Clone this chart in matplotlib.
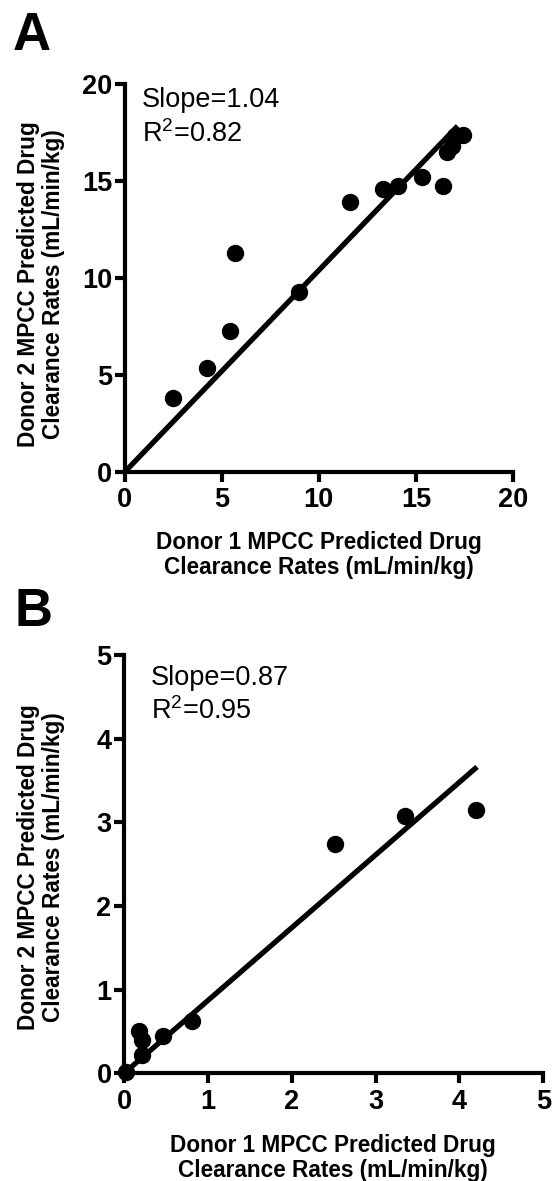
import matplotlib
matplotlib.use("Agg")
import matplotlib.pyplot as plt
import numpy as np

plt.rcParams['font.family'] = ['Liberation Sans', 'DejaVu Sans']
plt.rcParams['mathtext.default'] = 'regular'

# panel A data (Donor 1 vs Donor 2 clearance, mL/min/kg)
a_x = [2.5, 4.26, 5.43, 5.69, 8.97, 11.6, 13.3, 14.1, 15.3, 16.4, 16.6, 16.85, 17.0, 17.4]
a_y = [3.8, 5.35, 7.27, 11.3, 9.29, 13.9, 14.6, 14.75, 15.2, 14.75, 16.5, 16.8, 17.3, 17.35]
a_slope = 1.04
a_fit_end = 17.15

# panel B data
b_x = [0.02, 0.18, 0.22, 0.21, 0.46, 0.81, 2.52, 3.35, 4.20]
b_y = [0.02, 0.50, 0.40, 0.22, 0.44, 0.62, 2.74, 3.07, 3.15]
b_slope = 0.87
b_fit_end = 4.21

W, H = 553, 1181
fig = plt.figure(figsize=(W / 100, H / 100), dpi=100)


def px_axes(left, top, right, bottom):
	return fig.add_axes([left / W, 1 - bottom / H, (right - left) / W, (bottom - top) / H])


def style(ax, lim, step):
	ax.set_xlim(0, lim)
	ax.set_ylim(0, lim)
	ticks = np.arange(0, lim + step / 2, step)
	ax.set_xticks(ticks)
	ax.set_yticks(ticks)
	ax.set_xticklabels([f"{t:g}" for t in ticks])
	ax.set_yticklabels([f"{t:g}" for t in ticks])
	for s in ['top', 'right']:
		ax.spines[s].set_visible(False)
	for s in ['left', 'bottom']:
		ax.spines[s].set_linewidth(3)
		ax.spines[s].set_capstyle('projecting')
	ax.tick_params(width=3, length=7, labelsize=19.5, pad=2)
	ax.tick_params(axis='x', pad=4)
	for lab in ax.get_xticklabels() + ax.get_yticklabels():
		lab.set_fontweight('bold')


def panel(ax, xs, ys, slope, fit_end, lim, step, txt_pos, r2, slope_txt):
	style(ax, lim, step)
	ax.plot([0, fit_end], [0, slope * fit_end], color='black', lw=3.8,
		solid_capstyle='butt', clip_on=False)
	ax.plot(xs, ys, 'o', color='black', ms=11.5, clip_on=False)
	tx, ty1, ty2 = txt_pos
	ax.text(tx, ty1, slope_txt, transform=ax.transAxes, fontsize=19.5, va='baseline')
	ax.text(tx, ty2, 'R$^2$=' + r2, transform=ax.transAxes, fontsize=19.5, va='baseline')


axA = px_axes(124.7, 84, 513, 472)
panel(axA, a_x, a_y, a_slope, a_fit_end, 20, 5, (0.044, 0.94, 0.851), '0.82', 'Slope=1.04')

axB = px_axes(124, 655, 543.3, 1073.3)
panel(axB, b_x, b_y, b_slope, b_fit_end, 5, 1, (0.064, 0.928, 0.847), '0.95', 'Slope=0.87')

ylab = 'Donor 2 MPCC Predicted Drug\nClearance Rates (mL/min/kg)'
xlab = 'Donor 1 MPCC Predicted Drug\nClearance Rates (mL/min/kg)'
fig.text(41 / W, 1 - 284 / H, ylab, rotation=90, ha='center', va='center',
	fontsize=16.3, fontweight='bold', multialignment='center', linespacing=1.15)
fig.text(41 / W, 1 - 867 / H, ylab, rotation=90, ha='center', va='center',
	fontsize=16.3, fontweight='bold', multialignment='center', linespacing=1.15)
fig.text(319 / W, 1 - 555 / H, xlab, ha='center', va='center',
	fontsize=16.3, fontweight='bold', linespacing=1.15)
fig.text(333 / W, 1 - 1158 / H, xlab, ha='center', va='center',
	fontsize=16.3, fontweight='bold', linespacing=1.15)

fig.text(13 / W, 1 - 50 / H, 'A', fontsize=38, fontweight='bold', va='baseline')
fig.text(14 / W, 1 - 626 / H, 'B', fontsize=38, fontweight='bold', va='baseline')

fig.savefig('out.png', dpi=100)
